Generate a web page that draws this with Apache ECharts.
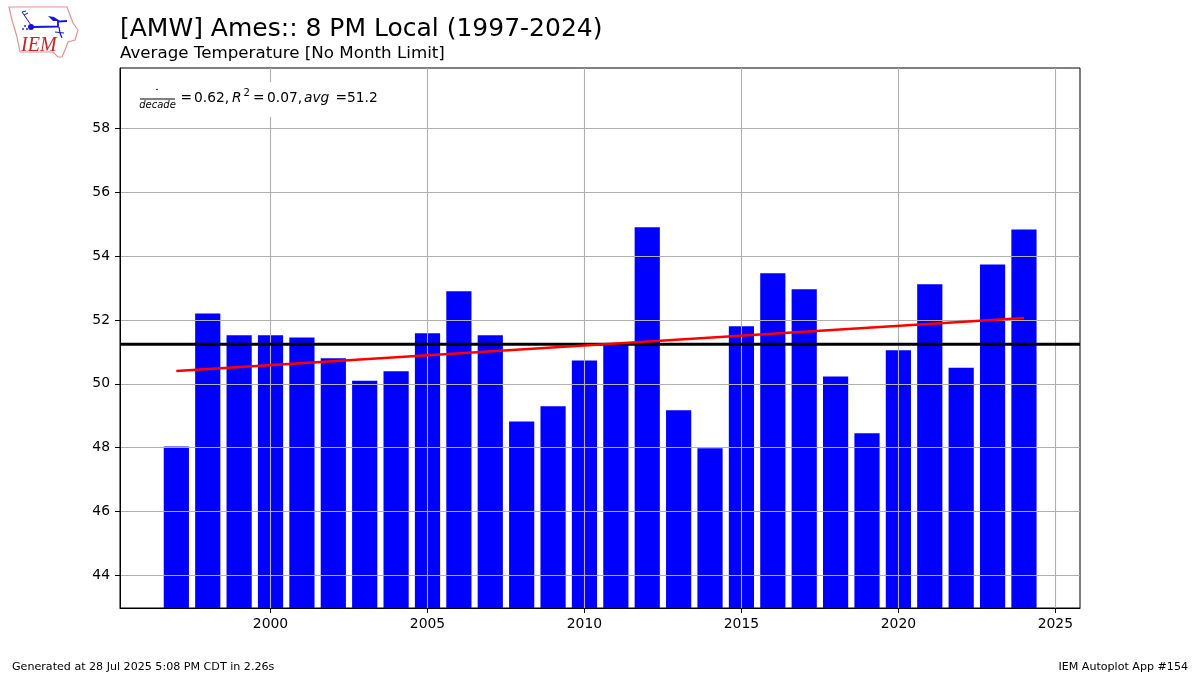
<!DOCTYPE html>
<html><head><meta charset="utf-8">
<style>html,body{margin:0;padding:0;background:#fff}#c{width:1200px;height:675px}</style>
<script src="https://cdn.jsdelivr.net/npm/echarts@6/dist/echarts.min.js"></script>
</head><body><div id="c"></div>
<script>
const years=[1997,1998,1999,2000,2001,2002,2003,2004,2005,2006,2007,2008,2009,2010,2011,2012,2013,2014,2015,2016,2017,2018,2019,2020,2021,2022,2023,2024];
const temps=[48.04,52.2,51.52,51.52,51.45,50.8,50.1,50.39,51.58,52.9,51.52,48.82,49.3,50.73,51.26,54.9,49.17,47.98,51.8,53.46,52.96,50.23,48.45,51.05,53.12,50.5,53.74,54.83];
const xTicks=[2000,2005,2010,2015,2020,2025];
const yTicks=[44,46,48,50,52,54,56,58];
const trendEnds=[[1997,50.4],[2024,52.06]];
const avgEnds=[[1995.205,51.24],[2025.785,51.24]];
const F='"DejaVu Sans"';
const barData=years.map((y,i)=>[y,temps[i]]);
const chart=echarts.init(document.getElementById('c'),null,{renderer:'canvas'});
const axisCommon={
  z:3,
  axisLine:{show:true,onZero:false,lineStyle:{color:'#000',width:1}},
  axisTick:{show:true,length:5,inside:false,lineStyle:{color:'#000',width:1}},
  splitLine:{show:true,lineStyle:{color:'#b0b0b0',width:1.1}},
  minorTick:{show:false}
};
const T=(text,x,y,font,extra)=>Object.assign({type:'text',z:21,x:x,y:y,style:{text:text,font:font,fill:'#000',textVerticalAlign:'middle'}},extra||{});
const NUM='13.8px "DejaVu Sans"', ITA='italic 13.8px "DejaVu Sans"';
const BLUE='#1414dc';
chart.setOption({
  animation:false,
  backgroundColor:'#fff',
  title:[
    {text:'[AMW] Ames:: 8 PM Local (1997-2024)',left:120,top:16.5,padding:0,textStyle:{fontFamily:F,fontWeight:'normal',fontSize:25,color:'#000'}},
    {text:'Average Temperature [No Month Limit]',left:120,top:45,padding:0,textStyle:{fontFamily:F,fontWeight:'normal',fontSize:16.7,color:'#000'}},
    {text:'Generated at 28 Jul 2025 5:08 PM CDT in 2.26s',left:12,top:661.5,padding:0,textStyle:{fontFamily:F,fontWeight:'normal',fontSize:11.1,color:'#000'}},
    {text:'IEM Autoplot App #154',right:12,top:661.5,padding:0,textStyle:{fontFamily:F,fontWeight:'normal',fontSize:11.1,color:'#000'}}
  ],
  grid:{left:120,top:68,width:960,height:540,show:true,borderColor:'#000',borderWidth:1,backgroundColor:'#fff',containLabel:false},
  xAxis:Object.assign({},axisCommon,{type:'value',min:1995.205,max:2025.785,
    axisTick:Object.assign({},axisCommon.axisTick,{customValues:xTicks}),
    axisLabel:{customValues:xTicks,formatter:v=>String(v),color:'#000',fontFamily:F,fontSize:13.9,margin:9.5}}),
  yAxis:Object.assign({},axisCommon,{type:'value',min:42.98,max:59.89,
    axisTick:Object.assign({},axisCommon.axisTick,{customValues:yTicks}),
    axisLabel:{customValues:yTicks,formatter:v=>String(v),color:'#000',fontFamily:F,fontSize:13.9,margin:10,padding:[2,0,0,0]}}),
  series:[
    {type:'bar',data:barData,barWidth:25.2,z:2,itemStyle:{color:'#0000ff'},silent:true},
    {type:'line',data:avgEnds,z:5,symbol:'none',lineStyle:{color:'#000',width:2.8},silent:true},
    {type:'line',data:trendEnds,z:6,symbol:'none',lineStyle:{color:'#ff0000',width:2.6},silent:true}
  ],
  graphic:[
    {type:'rect',z:20,shape:{x:131,y:82,width:255,height:35},style:{fill:'#fff'}},
    {type:'circle',z:21,shape:{cx:157,cy:89.5,r:0.8},style:{fill:'#000'}},
    {type:'line',z:21,shape:{x1:140,y1:99,x2:175,y2:99},style:{stroke:'#000',lineWidth:1}},
    T('decade',157.5,105,'italic 10px "DejaVu Sans"',{style:{text:'decade',font:'italic 10px "DejaVu Sans"',fill:'#000',textAlign:'center',textVerticalAlign:'middle'}}),
    T('=',180.5,98,NUM),T('0.62,',194,98,NUM),
    T('R',232,98,ITA),T('2',243.5,93,'10px "DejaVu Sans"'),
    T('=',253,98,NUM),T('0.07,',267,98,NUM),
    T('avg',304,98,ITA),
    T('=',335.5,98,NUM),T('51.2',347,98,NUM),
    {type:'polygon',z:21,shape:{points:[[9,7],[67,7],[70,15],[73,23],[78,30],[75,40],[68,42],[65,50],[62,57],[58,57],[53,52],[20,52],[17,37],[12,20]]},style:{stroke:'#e49090',fill:null,lineWidth:1.2}},
    {type:'polyline',z:21,shape:{points:[[32,27],[58,26.5],[58,21.5],[67,21]]},style:{stroke:BLUE,fill:null,lineWidth:1.8}},
    {type:'polyline',z:21,shape:{points:[[31,25],[22,12],[26,11]]},style:{stroke:BLUE,fill:null,lineWidth:1}},
    {type:'line',z:21,shape:{x1:24,y1:15,x2:28,y2:13},style:{stroke:BLUE,lineWidth:1}},
    {type:'polygon',z:21,shape:{points:[[48,16],[54,17],[60,21],[53,21]]},style:{fill:BLUE}},
    {type:'circle',z:21,shape:{cx:31,cy:27,r:3},style:{fill:BLUE}},
    {type:'circle',z:21,shape:{cx:25,cy:26,r:0.9},style:{fill:BLUE}},
    {type:'circle',z:21,shape:{cx:23,cy:29,r:0.9},style:{fill:BLUE}},
    {type:'circle',z:21,shape:{cx:27,cy:29,r:0.9},style:{fill:BLUE}},
    {type:'polyline',z:21,shape:{points:[[59,27],[60,33],[62,38]]},style:{stroke:BLUE,fill:null,lineWidth:1.2}},
    {type:'line',z:21,shape:{x1:55,y1:32,x2:64,y2:33},style:{stroke:BLUE,lineWidth:1.2}},
    T('IEM',21,45.5,'italic 20px "Liberation Serif"',{style:{text:'IEM',font:'italic 20px "Liberation Serif"',fill:'#cc2222',textVerticalAlign:'middle'}})
  ]
});
</script></body></html>
